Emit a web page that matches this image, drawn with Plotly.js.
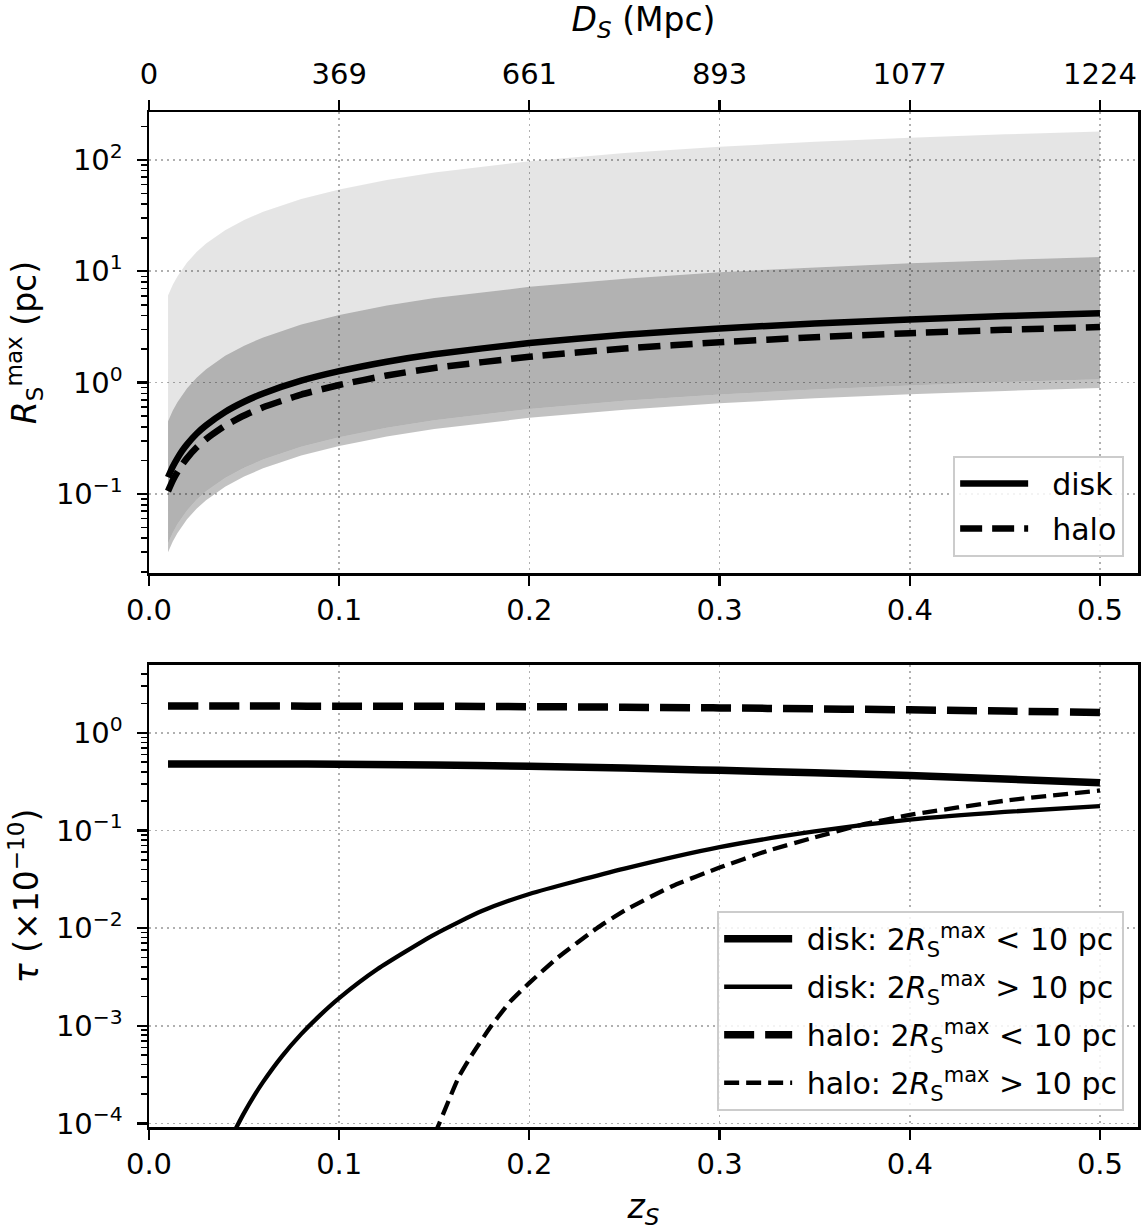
<!DOCTYPE html>
<html>
<head>
<meta charset="utf-8">
<script src="https://cdn.plot.ly/plotly-3.0.1.min.js"></script>
<style>
  html, body { margin: 0; padding: 0; background: #fff; }
  #chart { width: 1142px; height: 1230px; }
</style>
</head>
<body>
<div id="chart"></div>
<script>
// ---------- Top panel data (R_S^max vs z_S) ----------
const zTop = [0.01, 0.0125, 0.015, 0.0175, 0.02, 0.025, 0.03, 0.04, 0.05, 0.06, 0.08, 0.1, 0.125, 0.15, 0.2, 0.25, 0.3, 0.35, 0.4, 0.45, 0.5];
const lightTop = [6.05, 7.55, 9.02, 10.5, 11.96, 14.86, 17.73, 23.35, 28.83, 34.2, 44.5, 54.3, 66.0, 77.1, 97.2, 115.2, 131.4, 145.5, 158.4, 169.6, 180.0];
const darkTop = [0.450, 0.562, 0.671, 0.781, 0.890, 1.106, 1.319, 1.738, 2.146, 2.546, 3.316, 4.04, 4.92, 5.74, 7.24, 8.57, 9.78, 10.83, 11.79, 12.63, 13.40];
const darkBottom = [0.0360, 0.0449, 0.0537, 0.0625, 0.0712, 0.0885, 0.1056, 0.139, 0.1717, 0.2037, 0.2653, 0.3232, 0.3933, 0.459, 0.579, 0.686, 0.782, 0.866, 0.943, 1.010, 1.072];
const stripBottom = [0.0300, 0.0374, 0.0447, 0.0520, 0.0593, 0.0737, 0.0880, 0.1159, 0.1431, 0.1697, 0.2210, 0.2694, 0.3278, 0.3825, 0.4825, 0.5716, 0.652, 0.722, 0.786, 0.842, 0.894];
const diskR = [0.141, 0.176, 0.210, 0.245, 0.279, 0.347, 0.413, 0.545, 0.673, 0.798, 1.039, 1.266, 1.541, 1.798, 2.268, 2.687, 3.064, 3.393, 3.695, 3.956, 4.200];
const haloR = [0.106, 0.132, 0.158, 0.184, 0.210, 0.261, 0.311, 0.410, 0.506, 0.600, 0.781, 0.952, 1.159, 1.352, 1.706, 2.021, 2.304, 2.552, 2.779, 2.975, 3.158];

// ---------- Bottom panel data (tau vs z_S) ----------
const zThick = [0.01, 0.05, 0.1, 0.15, 0.2, 0.25, 0.3, 0.35, 0.4, 0.45, 0.5];
const diskSmall = [0.480, 0.480, 0.477, 0.468, 0.455, 0.436, 0.413, 0.390, 0.365, 0.337, 0.308];
const haloSmall = [1.88, 1.88, 1.875, 1.87, 1.855, 1.83, 1.80, 1.76, 1.72, 1.67, 1.62];

const zDiskLarge = [0.044, 0.046, 0.05, 0.055, 0.06, 0.07, 0.08, 0.09, 0.1, 0.12, 0.15, 0.175, 0.2, 0.25, 0.3, 0.35, 0.4, 0.45, 0.5];
const diskLarge = [7.66e-5, 9.16e-5, 1.285e-4, 1.884e-4, 2.667e-4, 4.90e-4, 8.22e-4, 1.288e-3, 1.923e-3, 3.79e-3, 8.59e-3, 0.01496, 0.0224, 0.0407, 0.0676, 0.0977, 0.129, 0.155, 0.178];

const zHaloLarge = [0.150, 0.1526, 0.163, 0.170, 0.180, 0.190, 0.200, 0.215, 0.2355, 0.250, 0.275, 0.300, 0.325, 0.350, 0.375, 0.400, 0.450, 0.500];
const haloLarge = [7.59e-5, 1.0e-4, 3.02e-4, 5.13e-4, 1.0e-3, 1.778e-3, 2.754e-3, 5.01e-3, 0.01, 0.01514, 0.0269, 0.0417, 0.0617, 0.0851, 0.1148, 0.1445, 0.2018, 0.257];

// ---------- Tick labels ----------
const xTickVals = [0, 0.1, 0.2, 0.3, 0.4, 0.5];
const xTickText = ['0.0', '0.1', '0.2', '0.3', '0.4', '0.5'];
const dsTickText = ['0', '369', '661', '893', '1077', '1224'];
const yTopTickVals = [0.1, 1, 10, 100];
const yTopTickText = ['10<sup>−1</sup>', '10<sup>0</sup>', '10<sup>1</sup>', '10<sup>2</sup>'];
const yBotTickVals = [1e-4, 1e-3, 1e-2, 1e-1, 1];
const yBotTickText = ['10<sup>−4</sup>', '10<sup>−3</sup>', '10<sup>−2</sup>', '10<sup>−1</sup>', '10<sup>0</sup>'];

function minorLog(eFrom, eTo) {
  const v = [];
  for (let e = eFrom; e <= eTo; e++) for (let d = 2; d <= 9; d++) v.push(d * Math.pow(10, e));
  return v;
}

const FONT = 'DejaVu Sans, Liberation Sans, sans-serif';
const BLACK = '#000000';
const GAP = '\u00a0\u00a0';
const GAP2 = '\u00a0';

const traces = [
  // bands (stacked fills)
  {x: zTop, y: stripBottom, xaxis: 'x', yaxis: 'y', mode: 'lines', line: {width: 0, color: 'rgba(0,0,0,0)'}, showlegend: false, hoverinfo: 'skip'},
  {x: zTop, y: darkBottom, xaxis: 'x', yaxis: 'y', mode: 'lines', line: {width: 0, color: 'rgba(0,0,0,0)'}, fill: 'tonexty', fillcolor: 'rgba(0,0,0,0.24)', showlegend: false, hoverinfo: 'skip'},
  {x: zTop, y: darkTop, xaxis: 'x', yaxis: 'y', mode: 'lines', line: {width: 0, color: 'rgba(0,0,0,0)'}, fill: 'tonexty', fillcolor: 'rgba(0,0,0,0.30)', showlegend: false, hoverinfo: 'skip'},
  {x: zTop, y: lightTop, xaxis: 'x', yaxis: 'y', mode: 'lines', line: {width: 0, color: 'rgba(0,0,0,0)'}, fill: 'tonexty', fillcolor: 'rgba(0,0,0,0.10)', showlegend: false, hoverinfo: 'skip'},
  // top lines
  {x: zTop, y: diskR, xaxis: 'x', yaxis: 'y', mode: 'lines', name: GAP + 'disk', line: {color: BLACK, width: 6.5, shape: 'spline', smoothing: 0.5}, legend: 'legend', legendgroup: 'a'},
  {x: zTop, y: haloR, xaxis: 'x', yaxis: 'y', mode: 'lines', name: GAP + 'halo', line: {color: BLACK, width: 6.5, dash: '22px,10px', shape: 'spline', smoothing: 0.5}, legend: 'legend', legendgroup: 'b'},
  // helper for the top D_S axis
  {x: [0.25], y: [1], xaxis: 'x3', yaxis: 'y', mode: 'markers', marker: {opacity: 0}, showlegend: false, hoverinfo: 'skip'},
  // bottom lines
  {x: zThick, y: diskSmall, xaxis: 'x2', yaxis: 'y2', mode: 'lines', name: GAP2 + 'disk: 2<i>R</i><sub>S</sub><sup>max</sup> &lt; 10 pc', line: {color: BLACK, width: 7.5, shape: 'spline'}, legend: 'legend2', legendgroup: 'c'},
  {x: zDiskLarge, y: diskLarge, xaxis: 'x2', yaxis: 'y2', mode: 'lines', name: GAP2 + 'disk: 2<i>R</i><sub>S</sub><sup>max</sup> &gt; 10 pc', line: {color: BLACK, width: 4.3, shape: 'spline', smoothing: 0.6}, legend: 'legend2', legendgroup: 'd'},
  {x: zThick, y: haloSmall, xaxis: 'x2', yaxis: 'y2', mode: 'lines', name: GAP2 + 'halo: 2<i>R</i><sub>S</sub><sup>max</sup> &lt; 10 pc', line: {color: BLACK, width: 7.5, dash: '30px,11px', shape: 'spline'}, legend: 'legend2', legendgroup: 'e'},
  {x: zHaloLarge, y: haloLarge, xaxis: 'x2', yaxis: 'y2', mode: 'lines', name: GAP2 + 'halo: 2<i>R</i><sub>S</sub><sup>max</sup> &gt; 10 pc', line: {color: BLACK, width: 4.3, dash: '15px,7px', shape: 'spline', smoothing: 0.5}, legend: 'legend2', legendgroup: 'f'}
];

const axisCommon = {
  showline: true, linecolor: BLACK, linewidth: 2.5,
  ticks: 'outside', ticklen: 10, tickwidth: 2.2, tickcolor: BLACK,
  zeroline: false,
  showgrid: true, gridcolor: '#b0b0b0', gridwidth: 1.6, griddash: '2px,4px',
  tickfont: {family: FONT, size: 29, color: BLACK}
};

const topDomain = [0.5458, 1];
const botDomain = [0, 0.4552];
const TITLE_FONT = {family: FONT, size: 33, color: BLACK};

const layout = {
  width: 1142, height: 1230,
  margin: {l: 149, r: 4, t: 112, b: 103, pad: 0},
  paper_bgcolor: '#ffffff', plot_bgcolor: '#ffffff',
  font: {family: FONT, size: 29, color: BLACK},
  showlegend: true,
  xaxis: Object.assign({}, axisCommon, {
    domain: [0, 1], anchor: 'y', range: [0, 0.52],
    tickmode: 'array', tickvals: xTickVals, ticktext: xTickText, mirror: false
  }),
  xaxis3: Object.assign({}, axisCommon, {
    overlaying: 'x', side: 'top', anchor: 'y', range: [0, 0.52],
    tickmode: 'array', tickvals: xTickVals, ticktext: dsTickText, showgrid: false,
    ticklabelstandoff: 4,
    title: {text: '<i>D</i><sub><i>S</i></sub> (Mpc)', font: TITLE_FONT, standoff: 20}
  }),
  yaxis: Object.assign({}, axisCommon, {
    domain: topDomain, anchor: 'x', type: 'log', range: [-1.71, 2.43], mirror: true,
    tickmode: 'array', tickvals: yTopTickVals, ticktext: yTopTickText, ticklabelstandoff: 8,
    minor: {tickmode: 'array', tickvals: minorLog(-2, 2), ticks: 'outside', ticklen: 6, tickwidth: 1.6, tickcolor: BLACK, showgrid: false},
    title: {text: '<i>R</i><sub>S</sub><sup>max</sup> (pc)', font: TITLE_FONT, standoff: 10}
  }),
  xaxis2: Object.assign({}, axisCommon, {
    domain: [0, 1], anchor: 'y2', range: [0, 0.52], mirror: true,
    tickmode: 'array', tickvals: xTickVals, ticktext: xTickText,
    title: {text: '<i>z</i><sub><i>S</i></sub>', font: TITLE_FONT, standoff: 18}
  }),
  yaxis2: Object.assign({}, axisCommon, {
    domain: botDomain, anchor: 'x2', type: 'log', range: [-4.036, 0.695], mirror: true,
    tickmode: 'array', tickvals: yBotTickVals, ticktext: yBotTickText, ticklabelstandoff: 8,
    minor: {tickmode: 'array', tickvals: minorLog(-5, 0), ticks: 'outside', ticklen: 6, tickwidth: 1.6, tickcolor: BLACK, showgrid: false},
    title: {text: '<i>τ</i> (×10<sup>−10</sup>)', font: TITLE_FONT, standoff: 8}
  }),
  legend: {
    x: 0.986, xanchor: 'right', y: 0.562, yanchor: 'bottom',
    bgcolor: 'rgba(255,255,255,0.85)', bordercolor: '#cccccc', borderwidth: 2,
    font: {family: FONT, size: 30, color: BLACK}, itemwidth: 68, traceorder: 'grouped', tracegroupgap: 3
  },
  legend2: {
    x: 0.986, xanchor: 'right', y: 0.016, yanchor: 'bottom',
    bgcolor: 'rgba(255,255,255,0.85)', bordercolor: '#cccccc', borderwidth: 2,
    font: {family: FONT, size: 30, color: BLACK}, itemwidth: 68, traceorder: 'grouped', tracegroupgap: 6
  }
};

Plotly.newPlot('chart', traces, layout, {staticPlot: true, displayModeBar: false});
</script>
</body>
</html>
